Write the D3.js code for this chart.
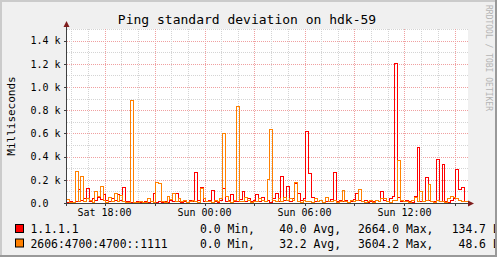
<!DOCTYPE html>
<html lang="en">
<head>
<meta charset="UTF-8">
<title>Ping standard deviation on hdk-59</title>
<script src="https://d3js.org/d3.v7.min.js"></script>
<style>
  body { margin: 0; padding: 0; background: #f0f0f0; }
  svg { display: block; }
  text { font-family: 'DejaVu Sans Mono', monospace; fill: #000; }
</style>
</head>
<body>
<svg id="chart" width="497" height="257"></svg>
<script>
// samples: one every 10 minutes, first one at Sat 15:45 (hours counted from Sat 00:00)
const startHour = 15.75;
const stepHours = 1 / 6;
const endHour = 39.81;

// 1.1.1.1 (ms)
const red = [
  10, 15, 5, 20, 120, 30, 40, 130, 20, 45, 25, 50, 35, 80, 30, 20,
  40, 25, 75, 30, 140, 20, 15, 10, 5, 15, 10, 5, 20, 10, 15, 85,
  10, 15, 5, 20, 10, 25, 15, 90, 20, 10, 15, 5, 25, 15, 265, 30,
  140, 20, 15, 30, 110, 20, 10, 25, 130, 15, 30, 80, 20, 15, 35, 100,
  20, 40, 15, 30, 80, 20, 50, 15, 25, 10, 40, 90, 20, 230, 30, 150,
  20, 45, 170, 90, 25, 40, 620, 260, 50, 20, 15, 30, 10, 20, 15, 35,
  270, 20, 30, 15, 25, 10, 20, 35, 90, 25, 15, 30, 10, 20, 15, 30,
  20, 105, 25, 15, 40, 60, 1210, 50, 20, 15, 30, 20, 10, 60, 480, 20,
  15, 225, 30, 20, 15, 380, 20, 340, 15, 10, 30, 45, 295, 120, 140, 20
];

// 2606:4700:4700::1111 (ms)
const orange = [
  35, 10, 5, 275, 20, 230, 15, 40, 30, 10, 100, 60, 150, 30, 10, 50,
  20, 90, 15, 70, 20, 10, 5, 890, 10, 5, 15, 5, 10, 40, 15, 10,
  180, 175, 20, 10, 60, 35, 90, 15, 40, 20, 30, 10, 15, 25, 20, 10,
  130, 40, 15, 20, 10, 30, 15, 45, 600, 60, 20, 10, 30, 840, 20, 15,
  50, 30, 10, 20, 15, 45, 30, 20, 210, 640, 30, 15, 40, 20, 50, 30,
  45, 25, 180, 20, 10, 30, 15, 20, 10, 40, 15, 25, 10, 50, 20, 15,
  30, 10, 20, 110, 15, 10, 25, 15, 30, 120, 20, 10, 15, 25, 10, 30,
  15, 45, 40, 20, 10, 30, 25, 370, 30, 15, 20, 10, 30, 50, 15, 100,
  20, 30, 160, 20, 10, 30, 15, 20, 10, 40, 60, 50, 45, 30, 20, 15
];

const yTicks = [0, 200, 400, 600, 800, 1000, 1200, 1400];
const yTickLabels = ["0.0", "0.2 k", "0.4 k", "0.6 k", "0.8 k", "1.0 k", "1.2 k", "1.4 k"];
const xTickHours = [18, 24, 30, 36];
const xTickLabels = ["Sat 18:00", "Sun 00:00", "Sun 06:00", "Sun 12:00"];

const seriesNames = ["1.1.1.1", "2606:4700:4700::1111"];
const legendMin = ["0.0 Min,", "0.0 Min,"];
const legendAvg = ["40.0 Avg,", "32.2 Avg,"];
const legendMax = ["2664.0 Max,", "3604.2 Max,"];
const legendLast = ["134.7 Last", " 48.6 Last"];

const colors = ["#ff0000", "#ff8000"];

const W = 497, H = 257;
const svg = d3.select("#chart");

// background + plot canvas
svg.append("rect").attr("width", W).attr("height", H).attr("fill", "#f0f0f0");

const x = d3.scaleLinear().domain([startHour, endHour]).range([67, 468]);
const y = d3.scaleLinear().domain([0, 1500]).range([203, 28.9]);
const px = v => Math.round(v) + 0.5;

svg.append("rect")
  .attr("x", 67).attr("y", y(1500))
  .attr("width", 401).attr("height", y(0) - y(1500))
  .attr("fill", "#fff");

// grid
const grid = svg.append("g").attr("shape-rendering", "crispEdges");
d3.range(100, 1501, 100).forEach(v => {
  const major = v % 200 === 0;
  grid.append("line")
    .attr("x1", 67).attr("x2", 468)
    .attr("y1", px(y(v))).attr("y2", px(y(v)))
    .attr("stroke", major ? "#f0a0a0" : "#d4d4d4")
    .attr("stroke-dasharray", "1,1");
});
d3.range(16, 40).forEach(h => {
  const major = h % 3 === 0;
  grid.append("line")
    .attr("x1", px(x(h))).attr("x2", px(x(h)))
    .attr("y1", y(1500)).attr("y2", 203)
    .attr("stroke", major ? "#f0a0a0" : "#d4d4d4")
    .attr("stroke-dasharray", "1,1");
});

// series as step lines
const line = d3.line()
  .x(d => x(d[0]))
  .y(d => Math.round(y(d[1])) + 0.5)
  .curve(d3.curveStepAfter);

[red, orange].forEach((vals, k) => {
  const pts = vals.map((v, i) => [startHour + i * stepHours, v]);
  pts.push([endHour, vals[vals.length - 1]]);
  svg.append("path")
    .datum(pts)
    .attr("fill", "none")
    .attr("stroke", colors[k])
    .attr("stroke-width", 1)
    .attr("shape-rendering", "crispEdges")
    .attr("d", line);
});

// axes
const axisCol = "#404040", arrowCol = "#7f1d1d";
const ax = svg.append("g").attr("shape-rendering", "crispEdges");
ax.append("line").attr("x1", 66.5).attr("x2", 66.5).attr("y1", 24).attr("y2", 206).attr("stroke", axisCol);
ax.append("line").attr("x1", 64).attr("x2", 470).attr("y1", 203.5).attr("y2", 203.5).attr("stroke", axisCol);
yTicks.forEach(v => {
  ax.append("line").attr("x1", 64).attr("x2", 66).attr("y1", px(y(v))).attr("y2", px(y(v))).attr("stroke", axisCol);
});
d3.range(18, 40, 3).forEach(h => {
  ax.append("line").attr("x1", px(x(h))).attr("x2", px(x(h))).attr("y1", 204).attr("y2", 206).attr("stroke", axisCol);
});
svg.append("path").attr("d", "M63.5,27 L66.5,21 L69.5,27 Z").attr("fill", arrowCol);
svg.append("path").attr("d", "M468,200.5 L474,203.5 L468,206.5 Z").attr("fill", arrowCol);

// y tick labels (left aligned, monospace)
svg.append("g").selectAll("text")
  .data(yTicks)
  .join("text")
  .attr("x", 30.5)
  .attr("y", d => y(d) + 3.8)
  .attr("font-size", "10px")
  .text((d, i) => yTickLabels[i]);

// x tick labels
svg.append("g").selectAll("text")
  .data(xTickHours)
  .join("text")
  .attr("x", d => x(d))
  .attr("y", 216)
  .attr("text-anchor", "middle")
  .attr("font-size", "10px")
  .text((d, i) => xTickLabels[i]);

// title
svg.append("text")
  .attr("x", 247).attr("y", 24)
  .attr("text-anchor", "middle")
  .attr("font-size", "13px")
  .text("Ping standard deviation on hdk-59");

// y axis title
svg.append("text")
  .attr("transform", "translate(15,116) rotate(-90)")
  .attr("text-anchor", "middle")
  .attr("font-size", "11px")
  .text("Milliseconds");

// watermark
svg.append("text")
  .attr("transform", "translate(485.5,5) rotate(90)")
  .attr("font-size", "8px")
  .style("fill", "#b4b4b4")
  .text("RRDTOOL / TOBI OETIKER");

// legend (last column runs into the frame, as in rrdtool's output)
svg.append("clipPath").attr("id", "legclip")
  .append("rect").attr("x", 0).attr("y", 0).attr("width", W - 2).attr("height", H);
const leg = svg.append("g").attr("clip-path", "url(#legclip)");
const legY = [233, 247.5];
seriesNames.forEach((name, i) => {
  leg.append("rect")
    .attr("x", 15.5).attr("y", legY[i] - 8.5)
    .attr("width", 8).attr("height", 8)
    .attr("fill", colors[i]).attr("stroke", "#000");
  const row = [[30.5, name], [200, legendMin[i]], [279.3, legendAvg[i]], [358, legendMax[i]], [451.7, legendLast[i]]];
  row.forEach(([tx, s]) => {
    leg.append("text")
      .attr("x", tx).attr("y", legY[i])
      .attr("font-size", "11.4px")
      .attr("xml:space", "preserve")
      .text(s);
  });
});

// 3d frame
svg.append("rect").attr("x", 0).attr("y", 0).attr("width", W).attr("height", 2).attr("fill", "#cbcbcb");
svg.append("rect").attr("x", 0).attr("y", 0).attr("width", 2).attr("height", H).attr("fill", "#cbcbcb");
svg.append("rect").attr("x", W - 2).attr("y", 0).attr("width", 2).attr("height", H).attr("fill", "#999");
svg.append("rect").attr("x", 0).attr("y", H - 2).attr("width", W).attr("height", 2).attr("fill", "#999");
</script>
</body>
</html>
